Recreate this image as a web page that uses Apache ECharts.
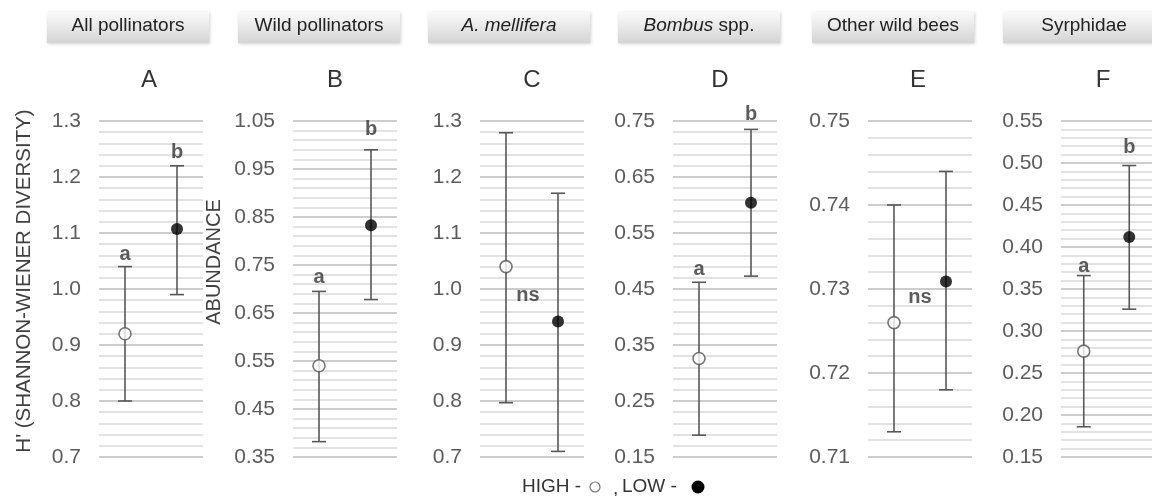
<!DOCTYPE html>
<html>
<head>
<meta charset="utf-8">
<script src="https://cdn.jsdelivr.net/npm/echarts@6/dist/echarts.min.js"></script>
<style>html,body{margin:0;padding:0;background:#fff}#c{width:1152px;height:496px}</style>
</head>
<body>
<div id="c"></div>
<script>
// ---- data ----
const categories = ['HIGH', 'LOW'];
const panelNames = ['All pollinators', 'Wild pollinators', '{i|A. mellifera}', '{i|Bombus} spp.', 'Other wild bees', 'Syrphidae'];
const panelLetters = ['A', 'B', 'C', 'D', 'E', 'F'];
const meanHigh  = [0.920, 0.540, 1.040, 0.326, 0.7260, 0.276];
const lowerHigh = [0.800, 0.382, 0.797, 0.189, 0.7130, 0.186];
const upperHigh = [1.040, 0.695, 1.279, 0.462, 0.7400, 0.366];
const meanLow   = [1.107, 0.833, 0.942, 0.604, 0.7309, 0.412];
const lowerLow  = [0.990, 0.678, 0.710, 0.473, 0.7180, 0.326];
const upperLow  = [1.220, 0.990, 1.171, 0.735, 0.7440, 0.497];
const axisMin   = [0.70, 0.35, 0.70, 0.15, 0.71, 0.15];
const axisMax   = [1.30, 1.05, 1.30, 0.75, 0.75, 0.55];
const axisStep  = [0.10, 0.10, 0.10, 0.10, 0.01, 0.05];
const labelDecimals = [1, 2, 1, 2, 2, 2];
const sigTexts = [['a', 'b'], ['a', 'b'], ['ns'], ['a', 'b'], ['ns'], ['a', 'b']];
const sigX     = [[0, 1], [0, 1], [0.42], [0, 1], [0.5], [0, 1]];
const sigY     = [[1.061, 1.243], [0.723, 1.033], [0.989], [0.484, 0.761], [0.729], [0.377, 0.519]];
const yAxisTitles = ["H' (SHANNON-WIENER DIVERSITY)", 'ABUNDANCE'];
const legendTexts = ['HIGH -', ',', 'LOW -'];

// ---- layout ----
const gridLeft = [99, 293, 480, 673, 868, 1061];
const gridWidth = 104;
const gridTop = 121, gridHeight = 336;
const tabLeft = [47, 238, 428, 618, 812, 1003];
const tabWidth = 162;
const letterX = [149, 335, 532, 720, 918, 1103];

const FONT = '"Liberation Sans", Arial, sans-serif';
const chart = echarts.init(document.getElementById('c'));

const grids = [], xAxes = [], yAxes = [], series = [], graphics = [];
for (let i = 0; i < 6; i++) {
  grids.push({ left: gridLeft[i], top: gridTop, width: gridWidth, height: gridHeight, containLabel: false });
  xAxes.push({ gridIndex: i, type: 'value', min: -0.5, max: 1.5, show: false });
  const dec = labelDecimals[i];
  yAxes.push({
    gridIndex: i, type: 'value', min: axisMin[i], max: axisMax[i], interval: axisStep[i],
    axisLine: { show: false }, axisTick: { show: false },
    axisLabel: { color: '#5c5c5c', fontSize: 21, fontFamily: FONT, margin: 18,
      formatter: v => v.toFixed(dec) },
    splitLine: { show: true, lineStyle: { color: '#cdcdcd', width: 2 } },
    minorTick: { show: false, splitNumber: 5 },
    minorSplitLine: { show: true, lineStyle: { color: '#e2e2e2', width: 2 } }
  });
  const errData = categories.map((c, k) => k === 0
    ? [k, lowerHigh[i], upperHigh[i]]
    : [k, lowerLow[i], upperLow[i]]);
  series.push({
    type: 'custom', xAxisIndex: i, yAxisIndex: i, data: errData, z: 3, clip: false,
    renderItem: (params, api) => {
      const x = api.value(0);
      const lo = api.coord([x, api.value(1)]);
      const hi = api.coord([x, api.value(2)]);
      const st = { stroke: '#585858', lineWidth: 1.6 };
      const cw = 7;
      return { type: 'group', children: [
        { type: 'line', shape: { x1: lo[0], y1: lo[1], x2: hi[0], y2: hi[1] }, style: st },
        { type: 'line', shape: { x1: lo[0] - cw, y1: lo[1], x2: lo[0] + cw, y2: lo[1] }, style: st },
        { type: 'line', shape: { x1: hi[0] - cw, y1: hi[1], x2: hi[0] + cw, y2: hi[1] }, style: st }
      ]};
    }
  });
  series.push({
    type: 'scatter', xAxisIndex: i, yAxisIndex: i, z: 5, clip: false, symbolSize: 12,
    data: [[0, meanHigh[i]]], itemStyle: { color: '#fff', borderColor: '#555', borderWidth: 1.6 }
  });
  series.push({
    type: 'scatter', xAxisIndex: i, yAxisIndex: i, z: 5, clip: false, symbolSize: 12,
    data: [[1, meanLow[i]]], itemStyle: { color: '#000', borderColor: '#000', borderWidth: 0 }
  });
  series.push({
    type: 'scatter', xAxisIndex: i, yAxisIndex: i, z: 6, clip: false, symbolSize: 1,
    itemStyle: { color: 'rgba(0,0,0,0)' },
    data: sigTexts[i].map((t, k) => ({ value: [sigX[i][k], sigY[i][k]], name: t })),
    label: { show: true, position: 'inside', formatter: p => p.name, color: '#333',
      fontSize: 20, fontWeight: 'bold', fontFamily: FONT },
    emphasis: { disabled: true }
  });

  // header tab
  graphics.push({
    type: 'rect', shape: { x: tabLeft[i], y: 12, width: tabWidth, height: 31 },
    style: { fill: new echarts.graphic.LinearGradient(0, 0, 0, 1, [
      { offset: 0, color: '#fafafa' }, { offset: 1, color: '#d4d4d4' }]),
      shadowBlur: 3, shadowColor: 'rgba(0,0,0,0.18)', shadowOffsetX: 1, shadowOffsetY: 1 }
  });
  graphics.push({
    type: 'text', x: tabLeft[i] + tabWidth / 2, y: 26,
    style: { text: panelNames[i], fill: '#222', fontSize: 19, fontFamily: FONT,
      align: 'center', verticalAlign: 'middle',
      rich: { i: { fontStyle: 'italic', fontSize: 19, fontFamily: FONT, fill: '#222' } } }
  });
  // panel letter
  graphics.push({
    type: 'text', x: letterX[i], y: 80,
    style: { text: panelLetters[i], fill: '#333', fontSize: 24, fontFamily: FONT,
      align: 'center', verticalAlign: 'middle' }
  });
}

// y axis titles
graphics.push({ type: 'text', x: 24, y: 281, rotation: Math.PI / 2,
  style: { text: yAxisTitles[0], fill: '#404040', fontSize: 20.5, fontFamily: FONT, align: 'center', verticalAlign: 'middle' } });
graphics.push({ type: 'text', x: 214, y: 262, rotation: Math.PI / 2,
  style: { text: yAxisTitles[1], fill: '#404040', fontSize: 20, fontFamily: FONT, align: 'center', verticalAlign: 'middle' } });

// legend
graphics.push({ type: 'text', x: 522, y: 487, style: { text: legendTexts[0], fill: '#333', fontSize: 19, fontFamily: FONT, align: 'left', verticalAlign: 'middle' } });
graphics.push({ type: 'circle', shape: { cx: 595, cy: 487, r: 5 }, style: { fill: '#fff', stroke: '#777', lineWidth: 1.2 } });
graphics.push({ type: 'text', x: 613, y: 489, style: { text: legendTexts[1], fill: '#333', fontSize: 19, fontFamily: FONT, align: 'left', verticalAlign: 'middle' } });
graphics.push({ type: 'text', x: 622, y: 487, style: { text: legendTexts[2], fill: '#333', fontSize: 19, fontFamily: FONT, align: 'left', verticalAlign: 'middle' } });
graphics.push({ type: 'circle', shape: { cx: 698, cy: 487, r: 6.5 }, style: { fill: '#000' } });

chart.setOption({
  animation: false,
  backgroundColor: '#fff',
  grid: grids, xAxis: xAxes, yAxis: yAxes, series: series,
  graphic: graphics
});
</script>
</body>
</html>
